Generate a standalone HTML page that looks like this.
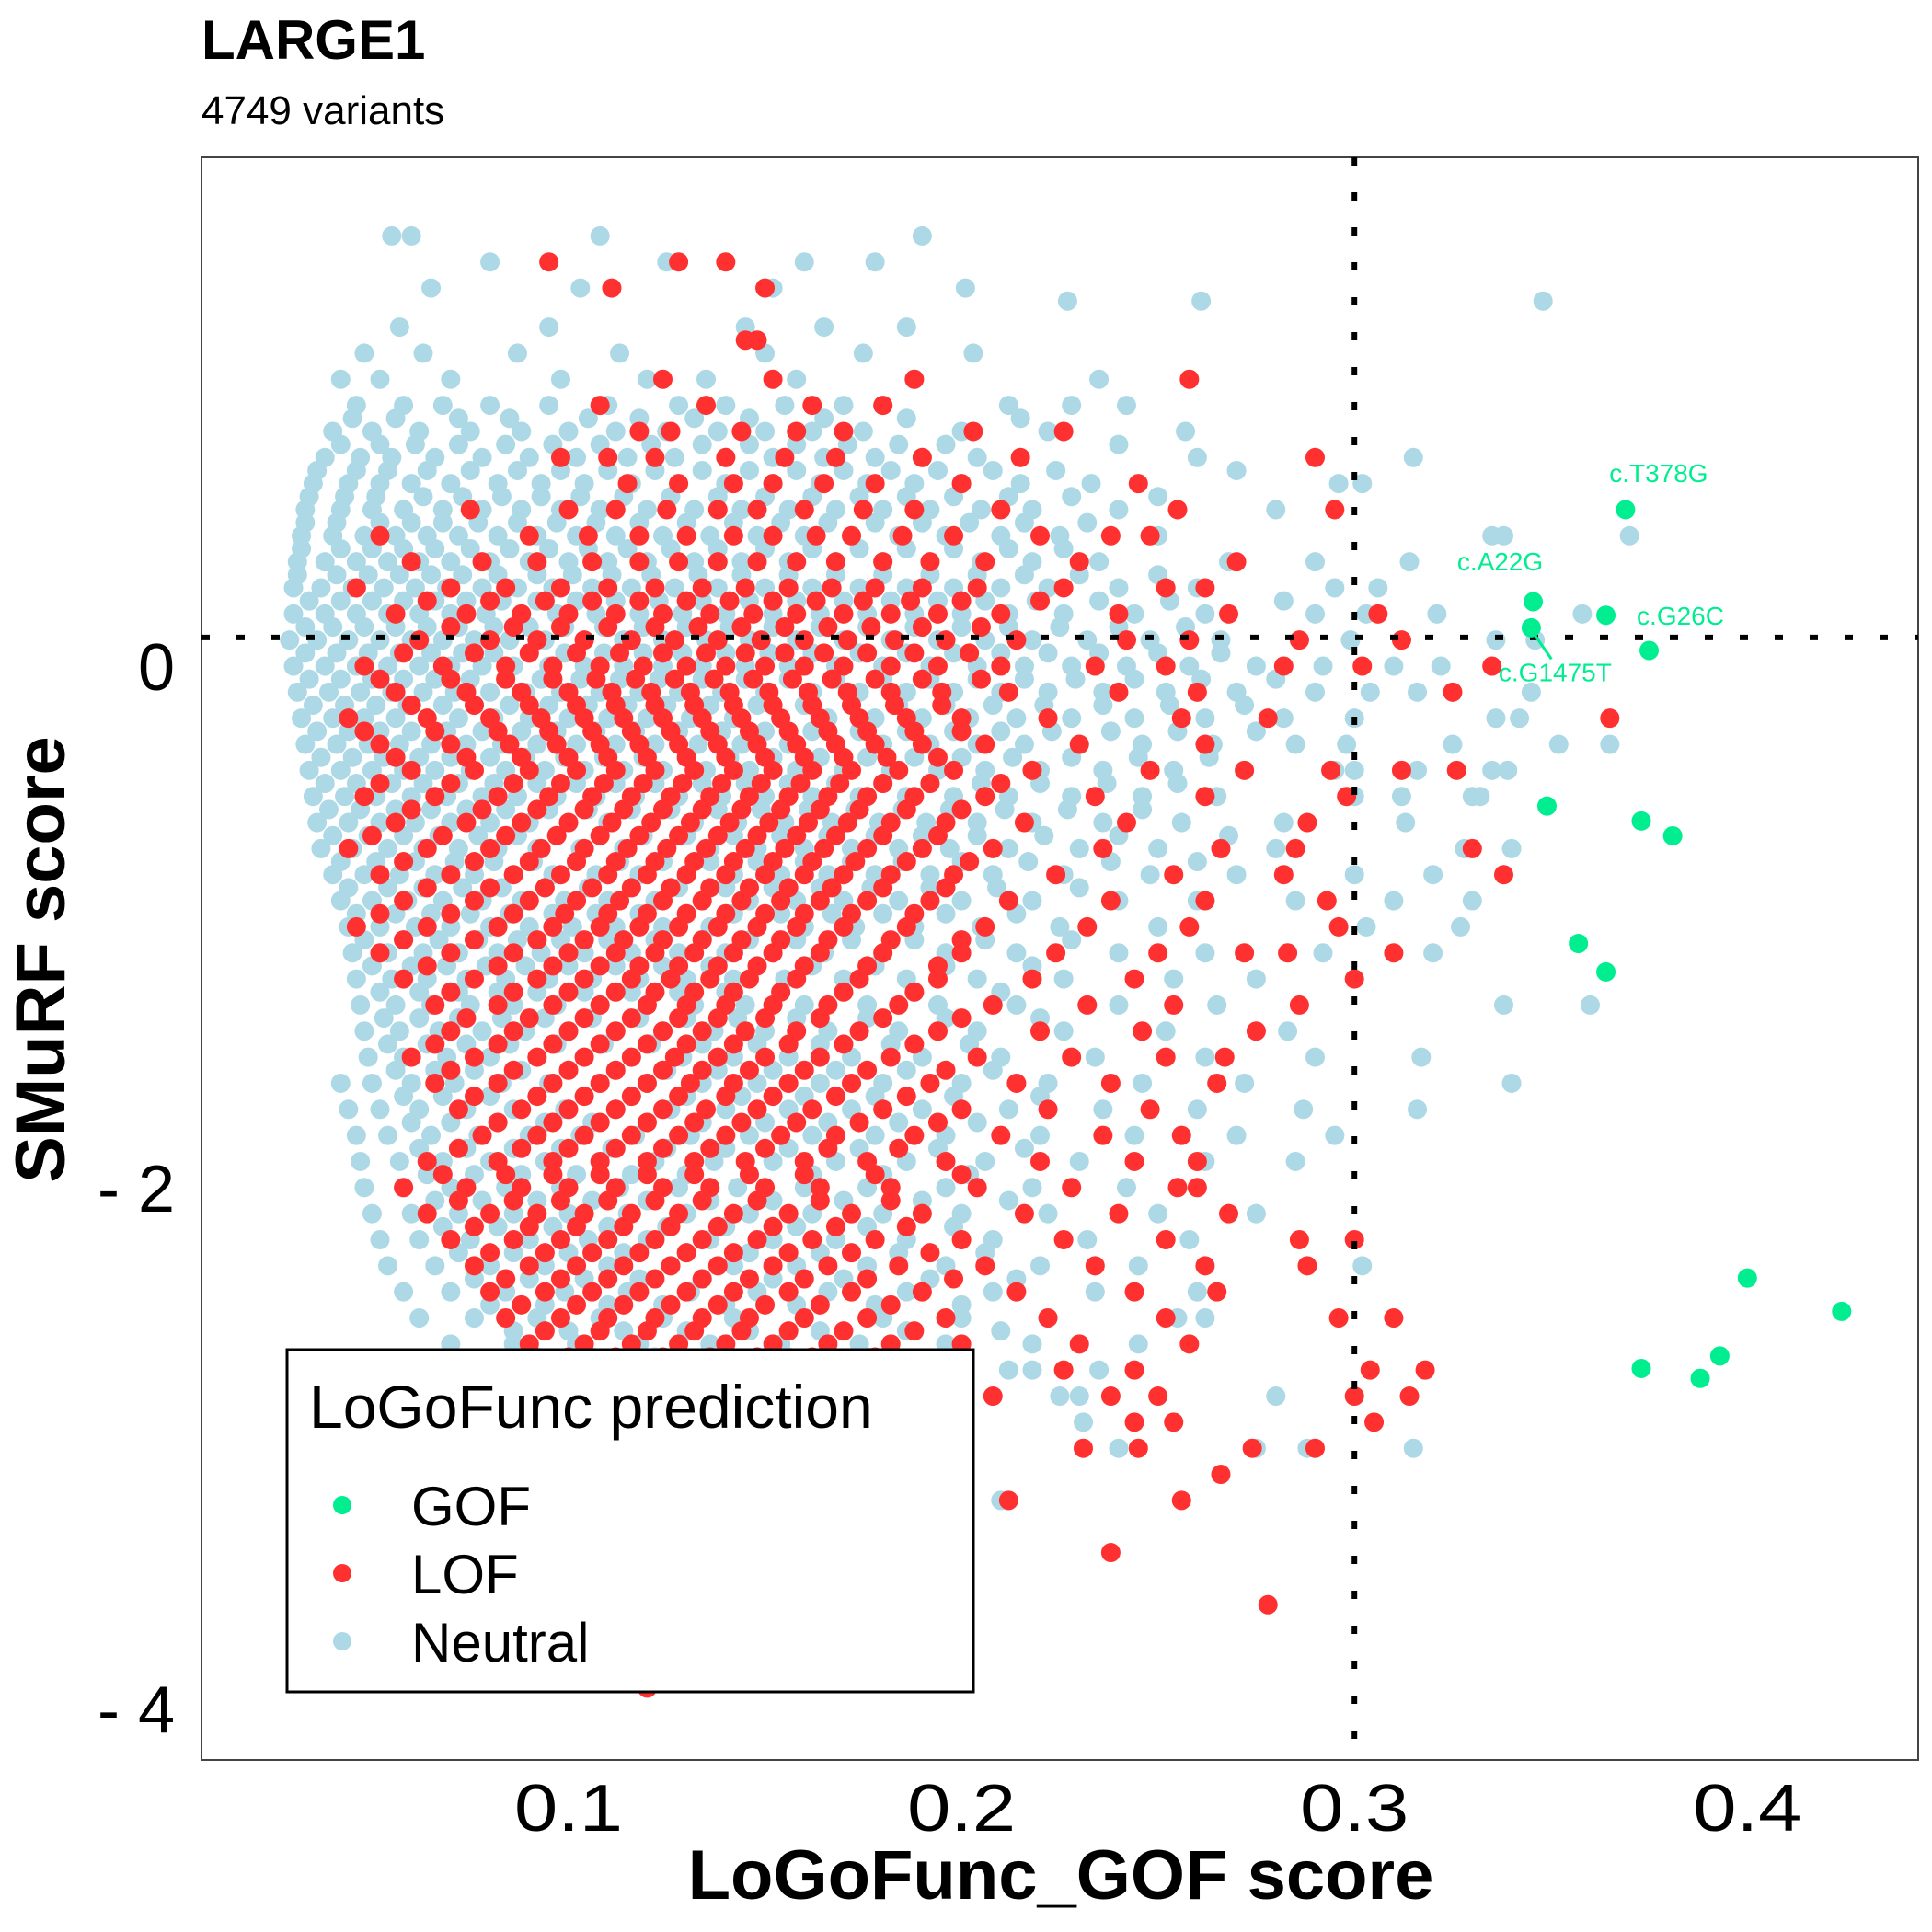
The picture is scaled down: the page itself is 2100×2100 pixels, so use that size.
<!DOCTYPE html>
<html><head><meta charset="utf-8">
<style>
html,body{margin:0;padding:0;background:#fff;}
svg{display:block;}
text{font-family:"Liberation Sans",sans-serif;}
</style></head>
<body>
<svg id="chart" width="2100" height="2100" viewBox="0 0 2100 2100" xmlns="http://www.w3.org/2000/svg">
  <text x="219" y="64" font-size="60" font-weight="bold">LARGE1</text>
  <text x="219" y="135" font-size="44">4749 variants</text>
  <rect x="219" y="171" width="1866" height="1742" fill="#fff" stroke="#444" stroke-width="2"/>
  <g id="neutral-layer"></g>
  <g id="lof-layer"></g>
  <line id="hline" stroke="#000" stroke-width="6" stroke-dasharray="9 29"/>
  <line id="vline" stroke="#000" stroke-width="6" stroke-dasharray="9 29"/>
  <g id="gof-layer"></g>
  <g id="label-layer"></g>
  <g id="xticks"></g>
  <g id="yticks"></g>
  <text x="1153" y="2064" font-size="76" font-weight="bold" text-anchor="middle">LoGoFunc_GOF score</text>
  <text transform="translate(70,1043) rotate(-90)" font-size="76" font-weight="bold" text-anchor="middle">SMuRF score</text>
  <g>
    <rect x="312" y="1467" width="746" height="372" fill="#fff" stroke="#000" stroke-width="3"/>
    <text x="336" y="1552" font-size="66">LoGoFunc prediction</text>
    <circle cx="372" cy="1636" r="10" fill="#00EE90"/>
    <text x="447" y="1658" font-size="60">GOF</text>
    <circle cx="372" cy="1710" r="10" fill="#FF3030"/>
    <text x="447" y="1732" font-size="60">LOF</text>
    <circle cx="372" cy="1784" r="10" fill="#ADD8E6"/>
    <text x="447" y="1806" font-size="60">Neutral</text>
  </g>
</svg>
<script>
const neutralRows = [
"165:55,60,108,190","155:80,125,178,160","145:65,103,152,201","140:227,261,348","130:57,95,145,165,186",
"120:48,63,87,113,150,175,203","110:42,52,70,98,120,135,158,188,235",
"100:46,58,68,80,95,110,128,140,155,170,180,212,228,242",
"95:45,56,72,85,105,118,132,146,165,186,215",
"90:40,50,62,75,88,100,112,125,138,150,162,175,200,222,257",
"85:42,52,61,72,84,96,108,121,134,146,158,171,184,196,240",
"80:38,47,55,66,78,90,102,115,127,140,152,165,178,190,204,260,315",
"75:36,46,54,64,75,87,98,110,122,134,146,158,170,182,194,208,224,270",
"70:35,44,52,60,70,82,93,104,116,128,140,152,164,176,188,200,215,233,296,302",
"65:34,43,51,63,73,83,93,103,114,126,138,150,162,174,186,198,212,228,250",
"60:33,42,50,58,68,78,88,98,108,120,132,144,156,168,180,192,205,218,240,280",
"55:33,41,52,60,68,77,87,97,107,118,130,142,154,166,178,190,202,216,232",
"50:32,40,48,56,64,72,82,92,102,112,124,136,148,160,172,184,196,210,225,250,335,338,370",
"45:32,42,50,58,66,75,85,95,105,115,126,138,150,162,174,186,198,212,226",
"40:31,38,46,54,62,70,80,90,100,110,120,132,144,156,168,180,192,205,218,235,268,290,314",
"35:31,41,49,57,65,73,82,92,101,111,121,133,144,156,168,180,192,204,216,230,250",
"30:30,37,45,53,61,69,78,87,96,106,116,127,138,150,162,174,186,198,210,222,240,260,295,306",
"25:34,42,50,58,66,74,83,92,102,112,123,134,146,158,170,182,194,206,219,235,253,282",
"20:30,38,46,54,62,70,79,88,97,107,118,129,140,152,164,176,188,200,212,226,244,262,290,303,321,358",
"15:33,40,48,56,64,72,81,90,99,109,119,130,141,152,164,176,188,200,212,225,240,257",
"10:29,36,44,52,60,68,76,85,94,104,114,124,135,146,158,170,182,194,206,218,232,248,266,286,299,336,346",
"5:33,41,49,57,65,73,81,90,99,109,119,129,140,151,162,174,186,198,210,222,235,250,266",
"0:30,38,46,54,62,70,78,86,95,104,114,124,134,145,156,168,180,192,204,216,228,242,258,275,292,310,322",
"-5:34,42,50,58,66,75,84,93,103,113,123,134,145,156,168,180,192,204,216,229,244,261,280",
"-10:31,39,47,55,63,71,80,89,98,108,118,128,139,150,162,174,186,198,210,222,236,252,270,290,304,316,345",
"-15:35,43,51,59,68,76,85,95,105,115,125,136,148,160,172,184,196,208,221,236,253,272",
"-20:32,40,48,56,64,72,81,90,100,110,120,131,142,154,166,178,190,202,214,228,244,262,282,300,336,342",
"-25:36,44,52,60,69,78,88,97,107,117,128,139,150,162,174,186,198,210,223,238,255,275",
"-30:33,41,49,57,65,74,83,92,102,112,122,133,144,156,168,180,192,204,216,230,246,264,285,298,325,352,365",
"-35:37,45,53,62,70,80,89,99,109,119,130,141,152,164,176,188,200,213,228,245,263",
"-40:34,42,50,58,66,75,84,94,104,114,124,135,146,158,170,182,194,206,220,236,254,272,295,300,316,335,339",
"-45:38,46,55,63,72,81,92,102,112,122,134,145,156,168,180,192,205,220,237,255",
"-50:35,43,51,60,69,78,87,97,107,117,128,139,150,162,174,186,198,212,228,246,265,300,312,332,330",
"-55:39,47,56,65,74,84,95,105,116,126,138,149,161,173,185,197,211,227,246",
"-60:36,44,52,61,70,80,90,100,110,121,132,143,155,167,179,191,204,218,236,256,282,313",
"-65:40,49,58,67,77,87,97,108,119,130,142,154,166,178,190,204,221,240,268",
"-70:37,45,54,63,72,82,92,103,114,125,136,148,160,172,184,197,212,230,250,280,328,340",
"-75:42,51,61,71,81,91,102,113,124,136,148,160,172,185,200,217,238,260",
"-80:40,48,57,66,76,86,96,107,118,130,142,154,166,178,192,208,226,248,270,300,320",
"-85:44,54,63,73,83,94,105,116,128,140,152,164,177,192,209,230",
"-90:42,50,59,68,78,88,99,110,122,134,146,158,170,184,200,218,240,260,285,310,330",
"-95:46,56,65,75,85,96,107,118,130,142,154,167,180,196,214",
"-100:44,52,61,70,80,90,101,112,124,136,148,160,173,188,205,225,250,303,327",
"-105:48,58,67,77,87,98,110,122,134,146,158,172,188,206,228",
"-110:45,54,63,72,82,93,104,116,128,140,152,165,180,196,214,240,262,292,320",
"-115:50,60,69,79,89,100,112,124,136,148,162,178,196,218",
"-120:46,55,64,74,84,95,106,118,130,142,155,170,186,204,226,254,275",
"-125:52,62,72,82,92,104,116,128,140,154,170,188,210",
"-130:47,56,65,75,86,97,108,120,132,145,160,176,194,214,240,265,338,360",
"-135:53,62,72,83,94,106,118,130,143,158,176,196,220",
"-140:48,57,67,78,89,100,112,124,137,150,166,184,204,226,252,283",
"-145:54,64,74,85,97,109,121,134,148,164,182,202",
"-150:49,58,69,80,92,104,116,129,142,156,172,190,210,234,262,290,317",
"-155:56,66,76,88,100,112,125,138,152,168,186,208",
"-160:42,50,60,71,83,95,108,120,134,148,164,180,200,222,246,272,340",
"-165:58,68,80,92,104,116,130,144,160,178,198,220",
"-170:44,52,62,74,86,99,112,126,140,156,172,190,212,236,260,287,316",
"-175:60,70,82,94,106,120,134,150,166,184,204",
"-180:46,54,65,77,90,103,117,131,146,162,178,196,220,244,270,295",
"-185:62,74,86,98,111,125,140,156,174,194,216",
"-190:47,57,68,80,94,108,122,137,152,168,186,206,230,262,285",
"-195:64,76,88,102,116,130,146,162,180,202",
"-200:48,58,70,84,98,113,128,143,160,176,196,218,242",
"-205:66,78,92,106,120,136,152,170,190,212",
"-210:50,60,72,86,100,115,130,146,162,180,200,222,250,275",
"-215:68,82,96,110,125,140,158,176,198",
"-220:52,62,75,90,105,120,136,152,168,186,208,232,258",
"-225:72,86,100,114,130,146,164,184,206",
"-230:54,66,80,94,110,126,142,158,176,196,220,245,302",
"-235:76,90,104,118,134,152,170,192,214",
"-240:58,70,84,99,115,131,148,166,186,208,234,260",
"-245:80,94,110,124,140,158,178,200",
"-250:62,76,92,108,124,142,160,180,200,222,255,262",
"-255:86,100,114,130,146,164,186,210",
"-260:70,86,102,118,136,154,174,196,218,245",
"-265:92,106,122,138,156,176,198",
"-270:212,218,235","-280:225,230,280","-290:231","-300:240,275,288,315","-320:210"
];
const lofRows = [
"155:95,128,140","145:111,150","125:145,148","110:124,152,188,258","100:108,135,162,180",
"90:118,126,144,158,170,203,226","80:98,110,122,140,155,168,190,215,290",
"70:115,128,142,152,165,178,200,245","60:75,100,112,125,138,148,160,175,188,210,255,295",
"50:52,90,105,118,130,142,152,163,172,185,198,220,238,248",
"40:60,78,92,106,118,128,138,148,158,168,180,192,206,230,270",
"30:46,70,84,98,110,122,134,145,156,167,178,190,204,226,252,262",
"25:64,80,94,106,118,130,141,152,163,175,187,200,220",
"20:56,74,88,100,112,124,136,147,158,170,182,194,210,240,268,306",
"15:70,86,98,110,122,133,144,155,166,177,190,205",
"10:62,80,92,104,116,127,138,149,160,171,183,196,214,242,258,286,312",
"5:58,76,90,102,113,124,135,145,155,165,176,188,202",
"0:48,68,84,96,108,119,130,140,150,160,170,182,194,210,234,252,282,302,335",
"-5:52,70,84,96,107,117,127,137,147,157,167,178,190,205",
"-10:56,74,88,100,111,121,131,141,151,161,171,182,195,212,240,260,325",
"-15:60,76,90,102,112,122,132,142,152,162,172,183,195",
"-20:44,64,80,93,104,114,124,134,144,154,164,174,186,200,222,256,278,365",
"-25:48,66,82,95,106,116,126,136,146,156,166,176,188,200",
"-30:52,70,85,97,108,118,128,138,148,158,168,178,190,206,230,262",
"-35:56,74,88,100,110,120,130,140,150,160,170,181,194",
"-40:60,76,90,102,112,122,132,142,152,162,172,184,198,218,248,272,294,312,326",
"-45:52,70,86,98,109,119,129,139,149,159,169,180,192,210",
"-50:48,66,82,95,106,116,126,136,146,156,166,176,188,206,234,262,298",
"-55:60,78,92,104,114,124,134,144,154,164,174,186,200",
"-60:56,74,88,100,111,121,131,141,151,161,171,182,196,216,242,288",
"-65:50,68,84,97,108,118,128,138,148,158,168,180,194",
"-70:44,64,80,93,104,115,125,135,145,155,165,176,190,208,236,266,285,330",
"-75:58,76,90,102,112,122,132,142,152,162,173,186,202",
"-80:52,70,86,98,110,120,130,140,150,160,170,182,198,224,254,282,338",
"-85:64,80,94,106,116,126,136,146,156,167,180,196",
"-90:58,76,90,102,113,124,134,144,154,164,176,192,212,238,262,293",
"-95:52,70,86,99,110,120,130,140,150,160,172,188",
"-100:46,64,82,96,108,118,128,138,148,158,170,186,206,232,258,296",
"-105:58,76,92,104,114,124,134,144,154,166,182,200",
"-110:52,70,86,100,112,122,132,142,152,164,180,200,224,250,272,283,310",
"-115:64,82,96,108,118,128,138,148,160,176,194",
"-120:58,76,92,104,116,126,136,146,158,174,194,218,244,300",
"-125:70,86,100,112,122,132,142,154,170,188",
"-130:66,82,96,108,120,130,140,152,166,184,208,232,254,286",
"-135:74,90,104,116,128,138,150,164,180,200",
"-140:70,86,100,112,124,134,145,158,174,194,220,246,275",
"-145:66,82,96,108,120,130,142,156,170,188",
"-150:60,76,92,104,116,127,138,150,164,182,204,228,252,267",
"-155:70,86,100,112,124,134,146,160,176,196",
"-160:66,82,96,108,120,131,142,156,172,192,214,238,265",
"-165:76,92,104,116,128,140,152,168,186",
"-170:72,88,100,112,124,135,148,162,180,200,222,248",
"-175:82,96,108,120,132,144,158,174,194",
"-180:78,92,104,116,128,140,154,168,188,210,236,256",
"-185:72,88,100,112,124,136,150,166,184",
"-190:64,82,96,108,120,132,145,160,176,196,220,244,260",
"-195:68,84,96,108,120,132,146,160,178,200",
"-200:58,74,88,100,112,124,136,150,164,182,204,228,260,255",
"-205:72,86,98,110,122,134,148,164,182",
"-210:64,80,92,104,116,128,142,156,172,190,216,240,268",
"-215:76,90,102,114,126,138,152,168,186",
"-220:70,86,98,110,122,134,148,162,178,200,226,252,286,300",
"-225:80,94,106,118,130,142,156,172,192",
"-230:76,90,102,114,126,138,152,166,184,206,234,262,288",
"-235:84,98,110,122,134,146,160,176,198",
"-240:80,94,106,118,130,142,156,172,190,214,244,265",
"-245:88,102,114,126,138,150,164,182",
"-250:84,98,110,122,134,146,160,176,196,222,252,296,310",
"-255:94,108,120,132,144,156,170,188",
"-260:90,104,116,128,140,152,166,182,200,230,258",
"-265:100,112,124,136,148,162,178",
"-270:48,65,96,108,120,132,144,158,174,192,226,244,304,318",
"-280:208,238,250,300,314","-290:244,254,305","-300:231,245,274,290","-310:266",
"-320:212,256","-340:238","-360:278","-392:120"
];
const gofX = [0.369,0.3455,0.364,0.345,0.375,0.349,0.373,0.381,0.357,0.364,0.400,0.424,0.373,0.388,0.393];
const gofY = [0.60,0.247,0.195,0.147,0.06,-0.537,-0.594,-0.651,-1.064,-1.173,-2.347,-2.475,-2.694,-2.732,-2.646];
const labelNames = ["c.T378G","c.A22G","c.G26C","c.G1475T"];
const labelIdx = [0,1,4,3];
const xTicks = [0.1,0.2,0.3,0.4];
const yTicks = [0,-2,-4];
const yTickLabels = ["0","- 2","- 4"];
const hThreshold = 0.11;
const vThreshold = 0.3;

const X = v => 618 + (v - 0.1) * 4271;
const Y = v => 724 - v * 283.4;
const NS = "http://www.w3.org/2000/svg";

function drawRows(rows, layer, color, name) {
  rows.forEach(r => {
    const [ys, xs] = r.split(":");
    const yv = parseFloat(ys) / 100;
    xs.split(",").forEach(xsv => {
      const c = document.createElementNS(NS, "circle");
      c.setAttribute("cx", X(parseFloat(xsv) / 1000));
      c.setAttribute("cy", Y(yv));
      c.setAttribute("r", 10.5);
      c.setAttribute("fill", color);
      
      
      layer.appendChild(c);
    });
  });
}
drawRows(neutralRows, document.getElementById("neutral-layer"), "#ADD8E6", "neutral-point");
drawRows(lofRows, document.getElementById("lof-layer"), "#FF3030", "lof-point");

const hl = document.getElementById("hline");
hl.setAttribute("x1", 219); hl.setAttribute("x2", 2085);
hl.setAttribute("y1", Y(hThreshold)); hl.setAttribute("y2", Y(hThreshold));
const vl = document.getElementById("vline");
vl.setAttribute("x1", X(vThreshold)); vl.setAttribute("x2", X(vThreshold));
vl.setAttribute("y1", 171); vl.setAttribute("y2", 1913);

const gl = document.getElementById("gof-layer");
gofX.forEach((xv, i) => {
  const c = document.createElementNS(NS, "circle");
  c.setAttribute("cx", X(xv)); c.setAttribute("cy", Y(gofY[i]));
  c.setAttribute("r", 10.5); c.setAttribute("fill", "#00EE90");
  
  
  gl.appendChild(c);
});

const ll = document.getElementById("label-layer");
const offs = [[36,-30],[-36,-34],[34,-28],[26,58]];
labelNames.forEach((nm, k) => {
  const i = labelIdx[k];
  const px = X(gofX[i]), py = Y(gofY[i]);
  const t = document.createElementNS(NS, "text");
  t.setAttribute("x", px + offs[k][0]); t.setAttribute("y", py + offs[k][1]);
  t.setAttribute("font-size", 28); t.setAttribute("fill", "#00EE90");
  t.setAttribute("text-anchor", "middle");
  t.textContent = nm;
  
  
  ll.appendChild(t);
  if (k === 3) {
    const s = document.createElementNS(NS, "line");
    s.setAttribute("x1", px + 4); s.setAttribute("y1", py + 8);
    s.setAttribute("x2", px + 22); s.setAttribute("y2", py + 34);
    s.setAttribute("stroke", "#00EE90"); s.setAttribute("stroke-width", 3);
    
    
    ll.appendChild(s);
  }
});

const xt = document.getElementById("xticks");
xTicks.forEach(v => {
  const t = document.createElementNS(NS, "text");
  t.setAttribute("x", X(v)); t.setAttribute("y", 1990);
  t.setAttribute("font-size", 72); t.setAttribute("text-anchor", "middle");
  t.setAttribute("textLength", 118); t.setAttribute("lengthAdjust", "spacingAndGlyphs");
  t.textContent = v.toFixed(1);
  
  
  xt.appendChild(t);
});
const yt = document.getElementById("yticks");
yTicks.forEach((v, i) => {
  const t = document.createElementNS(NS, "text");
  t.setAttribute("x", 190); t.setAttribute("y", Y(v) + 26);
  t.setAttribute("font-size", 72); t.setAttribute("text-anchor", "end");
  t.textContent = yTickLabels[i];
  
  
  yt.appendChild(t);
});
</script>
</body></html>
